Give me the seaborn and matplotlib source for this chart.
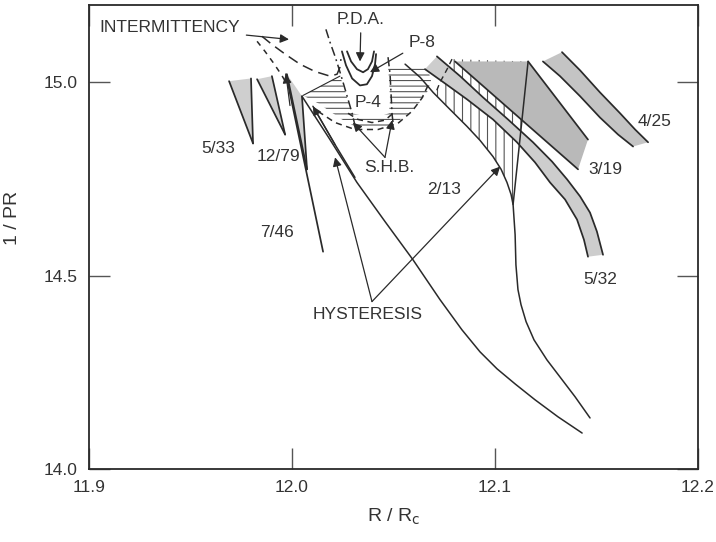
import numpy as np
import matplotlib
matplotlib.use("Agg")
import matplotlib.pyplot as plt
import seaborn as sns

# ---------------------------------------------------------------- data (R/Rc, 1/PR)
# mode-locked tongues (thin wedges)
w533_x = [11.9690, 11.9798, 11.9808]
w533_y = [15.003, 15.010, 14.842]
w1279_x = [11.9828, 11.9901, 11.9966]
w1279_y = [15.008, 15.016, 14.865]
w746_x = [11.9975, 12.0049, 12.0074]
w746_y = [15.021, 14.964, 14.775]
l746_x = [11.9970, 12.0153]
l746_y = [15.021, 14.562]

# hysteresis boundaries
hysA_x = [12.0049, 12.0187, 12.0320, 12.0458, 12.0596, 12.0729, 12.0837, 12.0926,
          12.1010, 12.1099, 12.1197, 12.1310, 12.1429]
hysA_y = [14.964, 14.852, 14.741, 14.640, 14.541, 14.438, 14.360, 14.303,
          14.259, 14.220, 14.179, 14.135, 14.093]
hysA2_x = [12.0103, 12.0212, 12.0310]
hysA2_y = [14.938, 14.839, 14.754]

# 2/13 boundary curve
b213_x = [12.0557, 12.0631, 12.0695, 12.0778, 12.0862, 12.0926, 12.0990, 12.1030,
          12.1059, 12.1079, 12.1089, 12.1099, 12.1103, 12.1113, 12.1128, 12.1153,
          12.1192, 12.1256, 12.1320, 12.1394, 12.1468]
b213_y = [15.047, 15.013, 14.974, 14.930, 14.886, 14.850, 14.808, 14.775,
          14.741, 14.710, 14.684, 14.606, 14.528, 14.464, 14.425, 14.381,
          14.334, 14.282, 14.238, 14.187, 14.132]
r213_x = [12.1163, 12.1089]
r213_y = [15.054, 14.684]
d213_x = [12.0788, 12.0764, 12.0729, 12.0709]
d213_y = [15.060, 15.034, 15.000, 14.974]

# 3/19 region
t319_x = [12.0803, 12.1163, 12.1458, 12.1409]
t319_y = [15.054, 15.054, 14.852, 14.775]

# 5/32 band
b532_up_x = [12.0714, 12.0828, 12.0941, 12.1064, 12.1187, 12.1281, 12.1355, 12.1419,
             12.1468, 12.1502, 12.1532]
b532_up_y = [15.067, 15.016, 14.961, 14.904, 14.845, 14.795, 14.749, 14.705,
             14.663, 14.614, 14.554]
b532_lo_x = [12.0655, 12.0754, 12.0862, 12.0990, 12.1108, 12.1197, 12.1271, 12.1345,
             12.1404, 12.1438, 12.1458]
b532_lo_y = [15.034, 14.997, 14.956, 14.904, 14.845, 14.793, 14.741, 14.697,
             14.645, 14.593, 14.549]

# 4/25 band
b425_up_x = [12.1330, 12.1419, 12.1517, 12.1616, 12.1690, 12.1754]
b425_up_y = [15.078, 15.031, 14.974, 14.920, 14.878, 14.845]
b425_lo_x = [12.1236, 12.1320, 12.1419, 12.1517, 12.1606, 12.1680]
b425_lo_y = [15.054, 15.016, 14.964, 14.909, 14.865, 14.834]

# period-4 region
p4_x = [12.0054, 12.0236, 12.0256, 12.0276, 12.0296, 12.0360, 12.0433, 12.0478,
        12.0483, 12.0478, 12.0473, 12.0532, 12.0606, 12.0670, 12.0685, 12.0665,
        12.0626, 12.0576, 12.0522, 12.0458, 12.0384, 12.0310, 12.0246, 12.0187,
        12.0128]
p4_y = [14.966, 15.016, 14.987, 14.953, 14.920, 14.912, 14.912, 14.920,
        14.956, 15.003, 15.044, 15.044, 15.044, 15.034, 15.003, 14.974,
        14.946, 14.920, 14.899, 14.883, 14.878, 14.886, 14.904, 14.925,
        14.946]

# subharmonic bifurcation lines
shb_out_x = [12.0128, 12.0212, 12.0310, 12.0424, 12.0522, 12.0591, 12.0640, 12.0670]
shb_out_y = [14.925, 14.896, 14.878, 14.878, 14.894, 14.925, 14.959, 14.992]
shb_in_x = [12.0276, 12.0325, 12.0394, 12.0458, 12.0498]
shb_in_y = [14.920, 14.904, 14.896, 14.902, 14.920]

# period-doubling accumulation boundaries
pda_l_x = [12.0167, 12.0187, 12.0212, 12.0232, 12.0256, 12.0276, 12.0296, 12.0310]
pda_l_y = [15.137, 15.104, 15.067, 15.034, 14.992, 14.956, 14.920, 14.889]
pda_r_x = [12.0473, 12.0483, 12.0488, 12.0493, 12.0498]
pda_r_y = [15.065, 15.021, 14.969, 14.917, 14.894]

# intermittency boundaries
int1_x = [11.9852, 11.9901, 11.9966, 12.0039, 12.0113, 12.0187, 12.0222, 12.0236, 12.0241]
int1_y = [15.119, 15.098, 15.073, 15.047, 15.028, 15.016, 15.021, 15.039, 15.060]
int2_x = [11.9828, 11.9867, 11.9906, 11.9946, 11.9985]
int2_y = [15.106, 15.080, 15.052, 15.021, 14.987]

# period-8 curves
p8o_x = [12.0246, 12.0266, 12.0296, 12.0335, 12.0369, 12.0394, 12.0409, 12.0414]
p8o_y = [15.080, 15.044, 15.010, 14.992, 14.995, 15.016, 15.047, 15.073]
p8i_x = [12.0271, 12.0291, 12.0320, 12.0350, 12.0374, 12.0394, 12.0404]
p8i_y = [15.080, 15.054, 15.034, 15.026, 15.034, 15.054, 15.080]

# tick labels
x_ticks = [11.9, 12.0, 12.1, 12.2]
x_ticklabels = ["11.9", "12.0", "12.1", "12.2"]
y_ticks = [14.0, 14.5, 15.0]
y_ticklabels = ["14.0", "14.5", "15.0"]

# ---------------------------------------------------------------- style
sns.set_theme(style="ticks")
plt.rcParams["font.family"] = ["Liberation Sans", "DejaVu Sans"]
plt.rcParams["hatch.linewidth"] = 0.8

INK = "#2a2a2a"
TXT = "#333333"
LW = 1.25

fig = plt.figure(figsize=(7.16, 5.42), dpi=100)
ax = fig.add_axes([0.1243, 0.1347, 0.8506, 0.8561])
ax.set_xlim(11.9, 12.2)
ax.set_ylim(14.0, 15.2)


def line(xs, ys, ls="-", lw=LW, color=INK, z=4):
    sns.lineplot(x=xs, y=ys, sort=False, estimator=None, ax=ax,
                 color=color, linewidth=lw, linestyle=ls, zorder=z)


def arrow(tip, tail, lw=0.9):
    ax.annotate("", xy=tip, xytext=tail,
                arrowprops=dict(arrowstyle="-|>", color=INK, lw=lw,
                                shrinkA=0, shrinkB=0, mutation_scale=13),
                zorder=6)


# hatched regions
ax.fill(p4_x, p4_y, facecolor="white", edgecolor="#555555", hatch="---",
        linewidth=0, zorder=1)
h213_x = [d213_x[0], r213_x[0]] + b213_x[10:1:-1] + d213_x[::-1]
h213_y = [d213_y[0], r213_y[0]] + b213_y[10:1:-1] + d213_y[::-1]
ax.fill(h213_x, h213_y, facecolor="white", edgecolor="#555555", hatch="||",
        linewidth=0, zorder=1)

# shaded tongues
for wx, wy in [(w533_x, w533_y), (w1279_x, w1279_y), (w746_x, w746_y)]:
    ax.fill(wx, wy, color="#cfcfcf", linewidth=0, zorder=2)
    line([wx[0], wx[2]], [wy[0], wy[2]])
    line([wx[1], wx[2]], [wy[1], wy[2]])
line(l746_x, l746_y)

ax.fill(t319_x, t319_y, color="#b9b9b9", linewidth=0, zorder=2)
line(t319_x[1:3], t319_y[1:3])
line([t319_x[3], t319_x[0]], [t319_y[3], t319_y[0]])

ax.fill(b532_up_x + b532_lo_x[::-1], b532_up_y + b532_lo_y[::-1],
        color="#cdcdcd", linewidth=0, zorder=3)
line(b532_up_x, b532_up_y)
line(b532_lo_x, b532_lo_y)

ax.fill(b425_up_x + b425_lo_x[::-1], b425_up_y + b425_lo_y[::-1],
        color="#c4c4c4", linewidth=0, zorder=2)
line(b425_up_x, b425_up_y)
line(b425_lo_x, b425_lo_y)

# boundary curves
line(hysA_x, hysA_y, lw=1.1)
line(hysA2_x, hysA2_y, lw=1.1)
line(b213_x, b213_y, lw=1.1)
line(r213_x, r213_y, lw=1.1)
line(d213_x, d213_y, ls=(0, (4, 3)), lw=1.0)
line(p4_x[:2], p4_y[:2], lw=0.8)
line(shb_out_x, shb_out_y, ls=(0, (4, 3)), lw=1.1)
line(shb_in_x, shb_in_y, ls=(0, (4, 3)), lw=1.1)
line(pda_l_x, pda_l_y, ls=(0, (6, 2.5, 1.2, 2.5)), lw=1.1)
line(pda_r_x, pda_r_y, ls=(0, (6, 2.5, 1.2, 2.5)), lw=1.1)
line(int1_x, int1_y, ls=(0, (7, 4)), lw=1.1)
line(int2_x, int2_y, ls=(0, (3.5, 3.5)), lw=1.1)
line(p8o_x, p8o_y, lw=1.3)
line(p8i_x, p8i_y, lw=1.3)

# direction arrows on boundaries
arrow((hysA2_x[0], hysA2_y[0]), (hysA2_x[1], hysA2_y[1]))
arrow((l746_x[0], l746_y[0]), (11.9990, 14.94))

# labels
fs = 12.5
txt = dict(ha="center", va="center", fontsize=fs, color=TXT, zorder=7)
for s, (tx, ty) in {"5/33": (11.9635, 14.829), "12/79": (11.9931, 14.808),
                    "7/46": (11.9926, 14.611), "2/13": (12.0749, 14.723),
                    "3/19": (12.1542, 14.775), "4/25": (12.1788, 14.899),
                    "5/32": (12.1517, 14.490), "P-4": (12.0374, 14.948)}.items():
    ax.text(tx, ty, s, **txt)

arrow_kw = dict(arrowstyle="-|>", color=INK, lw=0.9, shrinkA=2, shrinkB=0,
                mutation_scale=13)
ax.annotate("INTERMITTENCY", xy=(11.9985, 15.111), xytext=(11.9399, 15.142),
            arrowprops=arrow_kw, **txt)
ax.annotate("P.D.A.", xy=(12.0335, 15.054), xytext=(12.0340, 15.163),
            arrowprops=arrow_kw, **txt)
ax.annotate("P-8", xy=(12.0384, 15.026), xytext=(12.0640, 15.104),
            arrowprops=arrow_kw, **txt)

ax.text(12.0478, 14.780, "S.H.B.", **txt)
arrow((12.0300, 14.896), (12.0458, 14.806))
arrow((12.0493, 14.902), (12.0458, 14.806))

ax.text(12.0374, 14.399, "HYSTERESIS", **txt)
arrow((12.0212, 14.806), (12.0394, 14.433))
arrow((12.1025, 14.782), (12.0394, 14.433))

# axes frame and ticks
ax.set_xticks(x_ticks)
ax.set_xticklabels(x_ticklabels)
ax.set_yticks(y_ticks)
ax.set_yticklabels(y_ticklabels)
ax.tick_params(direction="in", length=15, width=1.0, color="#555555",
               top=True, right=True, labelsize=12.5, labelcolor=TXT, pad=8)
for sp in ax.spines.values():
    sp.set_visible(True)
    sp.set_color(INK)
    sp.set_linewidth(1.3)

ax.set_xlabel("R / R$_\\mathrm{c}$", fontsize=14, color=TXT, labelpad=8)
ax.set_ylabel("1 / PR", fontsize=14, color=TXT)
ax.yaxis.set_label_coords(-0.112, 0.54)

fig.savefig("out.png", dpi=100)
